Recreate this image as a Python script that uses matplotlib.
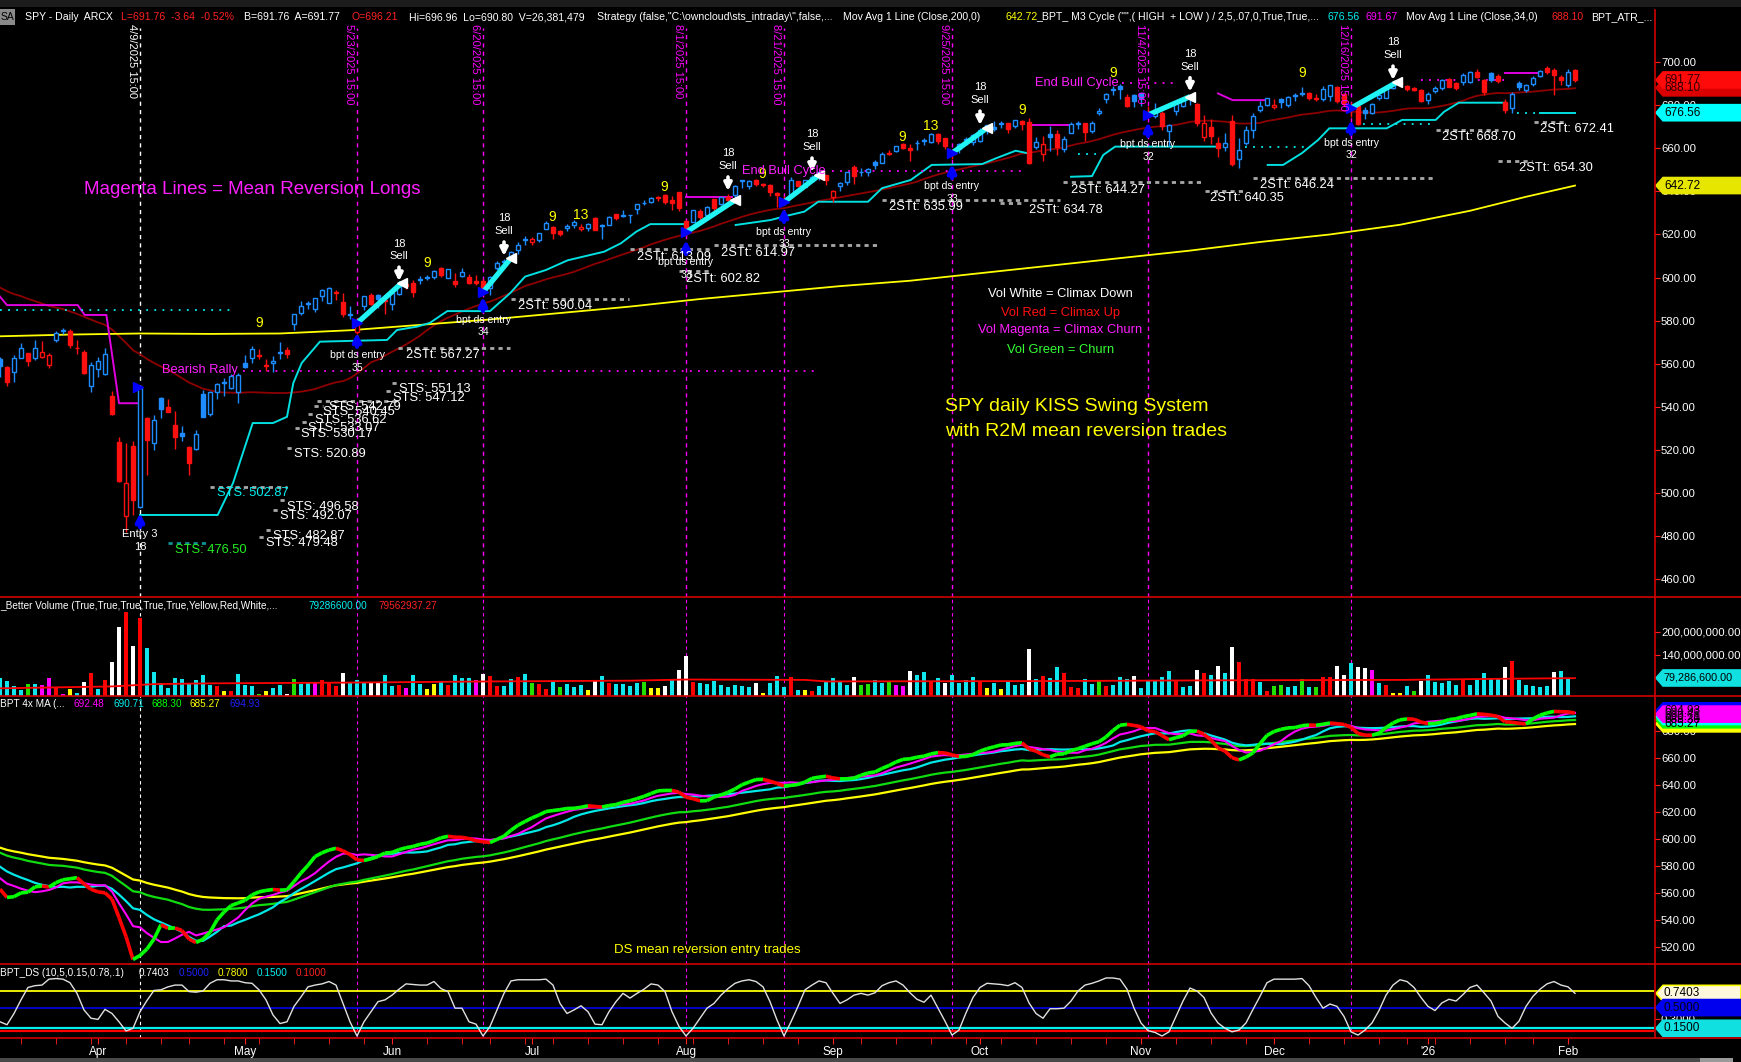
import numpy as np
import pandas as pd
import matplotlib
matplotlib.use('Agg')
import matplotlib.pyplot as plt
from matplotlib.patches import Rectangle, Polygon
from matplotlib.collections import LineCollection
from matplotlib.transforms import IdentityTransform
from matplotlib.lines import Line2D

plt.rcParams['font.family'] = ['Liberation Sans', 'DejaVu Sans']
NARROW = ['Liberation Sans Narrow', 'Liberation Sans', 'DejaVu Sans']

# ---------------- data ----------------
holidays = ['2025-04-18', '2025-05-26', '2025-06-19', '2025-07-04', '2025-09-01',
            '2025-11-27', '2025-12-25', '2026-01-01', '2026-01-19']
dates = pd.bdate_range('2025-03-12', '2026-02-03')
dates = dates[~dates.isin(pd.to_datetime(holidays))]

# closes before the first visible bar, only used to seed the averages
pre_closes = [603.05, 606.44, 609.75, 607.97, 599.37, 604.52, 601.81, 605.04, 601.82,
              597.77, 601.78, 604.22, 606.32, 600.77, 604.85, 605.31, 603.36, 609.73,
              609.70, 611.49, 612.93, 610.38, 599.94, 597.21, 594.24, 594.54, 585.05,
              594.18, 583.77, 576.86, 583.06, 572.71, 575.92, 560.58, 555.92]

opens = [
    562.2, 558.5, 556.1, 562.8, 564.8, 562.8, 563.3, 559.3, 570.8, 575.3, 575.2, 567.2, 565.5, 549.8,
    557.5, 555.1, 545.1, 523.7, 489.2, 521.6, 493.4, 534.9, 523.2, 544.0, 539.7, 531.7, 527.6, 521.1, 520.4, 546.0, 536.8, 546.7, 551.4, 548.9, 546.9,
    560.4, 562.8, 564.0, 559.2, 560.4, 565.3, 566.2, 578.6, 583.3, 587.8, 585.6, 591.3, 588.1, 593.1, 588.4, 582.7, 574.7, 586.6, 591.9, 592.1, 588.9,
    587.8, 592.3, 597.0, 597.6, 598.7, 599.7, 600.2, 604.2, 600.0, 598.5, 600.9, 600.2, 598.2, 598.4, 595.0, 604.3, 607.9, 608.9, 612.9, 617.4,
    616.4, 617.2, 622.5, 623.4, 621.4, 622.8, 624.2, 622.7, 623.2, 627.5, 623.7, 624.4, 629.3, 628.8, 629.0, 631.6, 634.6, 635.1, 637.5, 638.4, 635.9, 639.5,
    626.3, 625.7, 631.1, 629.1, 636.3, 634.0, 637.4, 638.3, 644.8, 642.7, 645.1, 642.9, 643.1, 639.4, 636.3, 637.8, 644.6, 642.2, 644.6, 647.2, 647.5,
    637.5, 642.7, 644.4, 651.5, 649.2, 648.9, 653.6, 653.4, 657.6, 658.8, 662.0, 660.0, 662.4, 663.5, 662.9, 666.8, 664.8, 657.9, 659.5, 664.4, 662.9,
    663.2, 670.8, 669.9, 671.1, 672.0, 670.3, 672.9, 672.2, 660.6, 657.2, 666.8, 666.8, 659.5, 667.3, 671.4, 672.0, 668.1, 676.5, 682.9, 687.1, 688.8, 683.9, 685.0,
    685.7, 676.1, 674.9, 676.5, 667.9, 677.4, 679.9, 684.8, 680.5, 665.4, 669.8, 662.3, 660.6, 672.9, 655.1, 662.7, 668.6, 677.6, 680.0,
    679.2, 683.0, 680.0, 685.0, 685.3, 685.9, 683.1, 682.9, 684.5, 688.5, 685.1, 679.2, 679.5, 677.8, 676.3, 683.2, 683.6, 688.0, 690.6, 688.9, 687.9, 687.1,
    682.6, 686.6, 687.9, 692.2, 690.2, 690.9, 690.9, 695.6, 691.7, 694.8, 693.7, 681.7, 678.6, 690.2, 687.1, 689.7, 693.7, 697.5, 696.4, 693.3,
    689.4, 696.21]
highs = [
    563.1, 559.1, 563.8, 569.7, 565.0, 570.9, 570.6, 564.9, 575.2, 576.4, 576.3, 570.9, 566.3, 560.7,
    562.9, 567.4, 547.2, 525.9, 523.2, 524.0, 548.6, 535.2, 536.3, 544.3, 543.7, 537.9, 531.2, 521.7, 529.2, 547.6, 547.4, 551.0, 553.1, 555.2, 555.5,
    564.0, 568.3, 566.9, 562.0, 563.6, 570.0, 567.8, 583.1, 589.1, 588.9, 590.5, 594.5, 595.5, 594.1, 592.6, 586.6, 581.0, 591.3, 592.6, 592.3, 591.1,
    592.8, 597.1, 597.3, 599.0, 600.8, 601.2, 603.5, 605.1, 603.8, 601.9, 604.4, 601.8, 601.2, 599.5, 600.5, 607.9, 608.6, 612.3, 616.4, 619.2,
    618.8, 620.5, 626.3, 624.0, 622.1, 624.7, 626.9, 624.9, 625.2, 627.9, 625.0, 628.4, 629.4, 631.5, 629.2, 634.2, 636.0, 637.6, 638.0, 638.7, 637.7, 639.8,
    626.8, 631.4, 631.6, 633.3, 636.5, 637.6, 638.9, 642.9, 645.2, 645.3, 645.7, 644.0, 643.6, 639.7, 637.9, 646.5, 645.0, 645.3, 647.4, 649.5, 647.8,
    640.5, 644.2, 649.2, 652.2, 650.9, 650.9, 654.6, 658.3, 659.1, 661.0, 662.3, 662.1, 664.0, 664.7, 667.3, 667.3, 664.9, 659.7, 662.4, 665.3, 666.7,
    669.4, 670.9, 672.7, 672.5, 672.0, 673.2, 673.1, 673.9, 665.1, 665.8, 670.2, 668.7, 665.8, 672.2, 672.9, 672.0, 672.7, 678.8, 685.5, 688.9, 689.7, 685.1, 685.1,
    685.8, 679.9, 680.9, 677.4, 671.1, 682.0, 683.6, 684.9, 680.9, 675.7, 673.7, 665.1, 667.3, 675.6, 664.6, 670.4, 676.2, 681.9, 683.4,
    682.9, 683.6, 684.5, 685.6, 688.4, 686.3, 685.4, 688.9, 689.5, 689.0, 685.6, 681.5, 680.1, 679.0, 681.1, 685.4, 688.0, 690.5, 691.2, 689.3, 688.4, 687.4,
    686.3, 689.0, 692.3, 692.9, 691.0, 694.8, 696.0, 696.8, 692.3, 695.6, 694.6, 682.8, 686.3, 691.3, 690.1, 693.4, 696.3, 698.1, 697.1, 694.2,
    696.9, 696.96]
lows = [
    553.7, 549.7, 551.5, 562.4, 559.1, 561.6, 562.7, 558.0, 570.1, 573.7, 567.2, 564.7, 555.1, 546.9,
    553.7, 554.8, 536.0, 505.1, 481.8, 489.7, 493.0, 508.3, 520.0, 534.6, 537.4, 520.3, 523.9, 508.5, 519.9, 535.2, 535.8, 543.7, 545.1, 548.1, 541.7,
    557.9, 560.3, 562.3, 556.4, 555.9, 562.3, 562.4, 575.5, 582.7, 585.5, 583.9, 589.3, 588.0, 589.7, 581.8, 580.6, 573.9, 585.1, 587.2, 585.8, 583.2,
    585.1, 591.9, 594.6, 591.1, 596.9, 598.8, 599.5, 600.1, 599.6, 595.5, 600.2, 596.8, 596.5, 593.6, 591.9, 603.4, 605.5, 608.5, 610.8, 615.0,
    615.0, 616.6, 622.4, 617.9, 619.5, 621.5, 623.0, 621.5, 621.8, 622.0, 618.1, 624.2, 626.5, 628.3, 625.3, 629.4, 633.7, 634.5, 635.5, 634.3, 631.5, 630.8,
    619.3, 625.6, 626.2, 628.6, 629.3, 633.7, 634.8, 636.0, 641.8, 641.0, 642.3, 642.2, 637.9, 632.9, 633.6, 637.3, 642.3, 641.9, 644.4, 645.3, 643.1,
    634.9, 640.4, 642.8, 643.3, 647.0, 647.2, 650.6, 653.0, 656.9, 658.4, 659.6, 654.2, 659.1, 661.4, 662.7, 661.8, 659.8, 654.9, 657.9, 661.6, 661.6,
    663.1, 666.6, 668.2, 669.4, 667.3, 669.4, 668.3, 652.8, 659.8, 653.9, 658.9, 657.1, 658.1, 667.3, 669.0, 663.3, 667.0, 675.6, 680.9, 684.8, 682.9, 679.2, 679.2,
    679.9, 674.6, 674.0, 668.7, 661.2, 675.4, 679.1, 680.1, 670.5, 663.3, 662.2, 655.9, 658.8, 651.9, 650.9, 661.6, 665.0, 676.8, 679.6,
    678.5, 678.6, 679.0, 681.9, 684.5, 682.5, 682.1, 681.9, 681.9, 680.9, 679.5, 674.5, 670.8, 673.5, 675.8, 682.6, 683.2, 687.6, 689.4, 686.6, 686.8, 681.5,
    680.8, 685.9, 687.2, 688.3, 687.0, 689.5, 690.4, 692.5, 685.0, 690.9, 690.2, 676.2, 676.5, 687.2, 686.2, 689.1, 693.0, 694.6, 684.8, 689.6,
    688.6, 690.80]
closes = [
    558.9, 551.4, 562.8, 567.2, 561.0, 567.1, 565.5, 564.0, 574.1, 575.5, 568.6, 567.1, 555.7, 559.4,
    561.0, 564.5, 536.7, 505.3, 504.4, 496.5, 548.6, 524.6, 533.9, 539.1, 537.6, 525.7, 526.4, 513.9, 527.3, 535.4, 546.7, 550.6, 550.9, 554.3, 554.5,
    558.5, 566.8, 563.5, 558.8, 561.2, 565.1, 564.3, 583.0, 586.8, 587.6, 590.5, 594.2, 594.9, 592.9, 582.9, 583.1, 579.1, 591.2, 587.7, 590.1, 589.4,
    592.7, 596.1, 595.9, 593.1, 599.1, 599.7, 603.1, 601.4, 603.8, 597.0, 602.7, 597.5, 597.4, 594.3, 600.2, 606.8, 607.1, 611.9, 614.9, 617.9,
    617.7, 620.5, 625.3, 620.7, 620.3, 624.1, 625.8, 623.6, 624.8, 622.1, 624.2, 628.0, 627.6, 628.8, 628.9, 634.2, 634.4, 637.1, 636.9, 635.3, 634.5, 632.1,
    621.7, 631.2, 628.0, 632.8, 632.3, 637.2, 635.9, 642.7, 644.9, 645.0, 643.4, 643.3, 639.8, 638.1, 635.6, 645.3, 642.5, 645.2, 646.6, 648.9, 645.1,
    640.3, 643.7, 649.1, 647.2, 648.8, 650.3, 652.2, 657.6, 657.4, 660.9, 660.0, 659.2, 662.3, 663.7, 666.8, 663.2, 661.1, 658.1, 661.8, 663.7, 666.2,
    668.5, 669.2, 669.2, 671.6, 669.1, 673.1, 671.2, 653.0, 663.0, 662.2, 665.2, 660.6, 664.4, 671.3, 671.3, 667.8, 671.8, 677.3, 685.2, 687.1, 687.4, 679.8, 682.1,
    683.3, 675.2, 677.6, 670.3, 671.0, 681.4, 683.0, 683.4, 672.0, 671.9, 665.7, 660.1, 662.6, 652.5, 659.0, 668.7, 675.0, 679.7, 683.4,
    680.3, 681.5, 683.9, 684.4, 685.7, 683.6, 683.0, 687.6, 689.2, 681.8, 680.7, 678.9, 671.4, 676.5, 680.6, 684.8, 687.9, 690.2, 690.0, 687.6, 687.1, 681.8,
    685.3, 688.0, 691.7, 688.6, 687.9, 694.0, 695.6, 693.3, 686.3, 691.7, 691.3, 677.8, 685.1, 688.6, 689.4, 692.8, 695.9, 695.3, 694.0, 691.9,
    695.4, 691.76]

# volume in millions, colour code per bar (c cyan, w white, r red, m magenta, g green, y yellow)
volume_m = [
    80, 73, 59, 48.6, 64, 64, 62, 79, 56, 38,
    51, 40, 69.5, 93, 51, 74.7, 122.5, 214, 253, 163,
    236, 159, 96.5, 66, 54.7, 79, 77.3, 67.7, 74.7, 87.7,
    62, 59, 47, 46, 90, 62, 59, 38, 46, 53,
    62, 37, 76.4, 64, 66, 70.3, 74.7, 66, 59, 93.8,
    67.7, 74.7, 70.3, 67.7, 67.7, 87.7, 59, 62, 54.7, 87.7,
    64, 50.3, 63.4, 72, 62, 87.7, 79, 80.8, 74.7, 89.5,
    85, 59, 59, 76.4, 81.7, 90, 67.7, 64, 50.3, 72,
    56, 64, 57.3, 62, 48.6, 72, 85, 67.7, 64, 63.4,
    59, 66, 69.5, 55, 54, 59, 77.3, 100.8, 137, 69.5,
    66, 64, 72, 62, 57, 61, 59, 57, 67, 40,
    67, 85, 56, 81.6, 48.6, 48.6, 47, 59, 72, 79,
    69.5, 62, 81.6, 62, 64, 75, 66, 69, 61, 60,
    98, 88, 96, 69.5, 80, 68, 88, 68, 75, 81.6,
    70.4, 54, 66, 52, 69.5, 62, 64, 155, 76.4, 85,
    79, 108, 92, 57, 53, 76.4, 64, 71, 60, 62,
    81.6, 76.4, 85, 53, 75, 73, 81.6, 98, 73, 57,
    59, 101, 93, 88, 111, 93, 160, 121, 77.3, 76.4,
    69.5, 47, 59, 62, 56, 59, 77.3, 56, 57, 81.6,
    81.6, 111, 88, 118, 108, 107, 101, 66, 62, 40,
    41, 59, 47, 72, 87, 69.5, 68, 73, 61, 76.4,
    62, 75, 92, 76.4, 76.4, 108, 124.3, 75, 62, 59,
    56, 59, 96, 98, 78, 26.4]
volume_codes = ("ccccgcmmrm" "ycwrcrwwrw" "rccccccccc" "cryrcccgyc" "cwgccmrrrw"
                "cccwwccrmc" "cyycrcccmw" "rrccrcgrrc" "gcccywcrcc" "ccgyywcwwr"
                "ccccccccwy" "cccrcyrccc" "ccwggccgmm" "wccrcwcccc" "rycycccwcr"
                "ccrrrccgrc" "ccwcccccrc" "cwrcwcwrrr" "crggccgcgr" "rwwcwwmcry"
                "ycgwcccccr" "cccccwrccc" "ccwccc")
vol_avg_idx = [0, 16, 22, 30, 50, 70, 90, 98, 115, 118, 150, 175, 200, 215, 225]
vol_avg_m = [53, 58, 64, 66, 68, 71, 73, 76, 75, 71, 72, 74, 75, 78, 79.6]

# BPT_DS oscillator
ds_osc = [
    .26, .21, .40, .63, .84, .87, .88, .98, .99, .98,
    .92, .74, .46, .32, .30, .47, .40, .26, .105, .15,
    .43, .62, .79, .80, .85, .88, .88, .77, .76, .78,
    .91, .97, .97, .95, .95, .92, .91, .80, .63, .375,
    .23, .26, .52, .68, .85, .88, .90, .94, .88, .57,
    .26, .02, .26, .43, .60, .63, .71, .81, .90, .89,
    .88, .88, .94, .82, .77, .49, .49, .26, .22, .02,
    .18, .46, .74, .95, .97, .97, .97, .97, .98, .88,
    .57, .40, .46, .53, .43, .22, .21, .43, .60, .74,
    .66, .74, .81, .90, .88, .77, .43, .18, .02, .15,
    .32, .49, .57, .71, .82, .91, .95, .97, .94, .85,
    .60, .29, .02, .26, .52, .80, .88, .95, .92, .74,
    .57, .63, .71, .74, .71, .75, .87, .92, .95, .88,
    .75, .64, .59, .71, .49, .27, .035, .12, .41, .67,
    .84, .91, .90, .89, .87, .92, .84, .58, .40, .32,
    .48, .48, .49, .61, .78, .88, .91, .95, 1.0, 1.0,
    .98, .81, .49, .24, .11, .08, .02, .09, .35, .61,
    .83, .78, .67, .41, .24, .15, .09, .12, .24, .47,
    .69, .92, .98, .98, .98, .98, .99, .87, .67, .49,
    .56, .52, .35, .09, .035, .12, .24, .45, .71, .88,
    .97, .94, .84, .67, .52, .45, .58, .64, .61, .72,
    .84, .88, .75, .61, .35, .24, .15, .27, .52, .69,
    .81, .90, .94, .88, .85, .7403]

# 200 day average
sma200_idx = [0, 10, 20, 30, 40, 50, 60, 70, 80, 90, 100, 110, 120, 130, 140, 150, 160,
              170, 180, 190, 200, 210, 218, 225]
sma200_val = [572.7, 573.5, 574.0, 573.8, 574.0, 575.5, 578.0, 580.5, 583.5, 586.5, 590.0,
              593.0, 596.0, 598.5, 602.0, 605.5, 609.0, 612.5, 616.5, 620.0, 624.5, 631.0,
              637.5, 642.7]

# trailing stop (cyan) pieces and M3 cycle (magenta) pieces: (bar, price)
stop_pieces = [
    [(20, 489.7), (31.1, 489.7), (33.3, 504.6), (36.1, 532.4), (39, 532.4), (41, 535.3),
     (41.9, 551), (43.1, 560.3), (45.7, 570.2), (55.3, 571), (56.7, 575.6), (59.6, 577.2),
     (61.4, 578.9), (63.9, 584.4), (70, 584.4), (72.9, 592.8), (75, 600.4), (78, 603.5),
     (81.1, 608), (86.3, 612), (88.7, 615.9), (90.9, 621.3), (92.9, 624.8), (98, 624.8)],
    [(105.1, 624.4), (110.1, 626.7), (112.3, 628.6), (114.9, 630.6), (116.9, 635.2),
     (124, 635.2), (126, 641.5), (130.1, 645.3), (133.1, 652.3), (140.3, 652.7),
     (142.3, 655.4), (145.1, 658.9), (146.7, 657.8)],
    [(153, 646.8), (156, 647.1), (157.6, 656.9), (159.3, 660.8), (174, 660.8)],
    [(181.1, 652.3), (183.3, 652.3), (186, 657.8), (188.3, 663.9), (189.9, 669.3),
     (198.1, 669.3), (200.3, 673.2), (205.1, 673.2), (206.3, 677), (208.4, 681.2), (215, 681.2)],
    [(220, 676.6), (225, 676.6)]]
cycle_pieces = [
    [(0, 591.1), (1, 587.2), (11.1, 587.2), (12.1, 582.6), (15.2, 582.6), (17.0, 541.6), (19.8, 541.6)],
    [(98, 637.5), (104.6, 637.5)],
    [(147, 670.8), (153.3, 670.8)],
    [(174, 685.5), (176.1, 682.4), (181.1, 682.4)],
    [(215, 694.8), (220, 694.8)]]
# dotted projections: (price, from bar, to bar, colour)
dotted = [(584.8, 0, 33.3, 'c'), (556.6, 34.7, 116.3, 'm'), (649.3, 118.9, 146.7, 'm'),
          (690.5, 160.3, 168.3, 'm'), (657.4, 154.0, 157.1, 'c'), (660.8, 177.9, 186.6, 'c'),
          (671.2, 194.7, 204.6, 'c'), (691.7, 203.0, 215.0, 'm'), (676.4, 216.7, 220.0, 'c')]

# mean reversion trades
event_dates = ['2025-04-09', '2025-05-23', '2025-06-20', '2025-08-01', '2025-08-21',
               '2025-09-25', '2025-11-04', '2025-12-16']
entry_px = [578.8, 593.2, 621.0, 635.0, 657.8, 675.5, 678.7]
exit_idx = [57.4, 73.0, 105.0, 117.0, 141.0, 170.0, 199.5]
exit_px = [597.5, 609.0, 635.9, 647.5, 669.4, 684.0, 690.6]
entry_arrow_px = [574.3, 591.0, 617.4, 632.3, 652.7, 672.2, 673.2]
entry_label_px = [564.0, 580.4, 607.1, 621.3, 642.5, 662.0, 662.6]
entry_count = ['35', '34', '33', '33', '33', '32', '32']
sell_idx = [57, 72, 104, 116, 140, 170, 199]
sell_tip_px = [598.3, 610.0, 640.2, 649.0, 670.8, 686.3, 691.7]

# stop / target labels: (value, line from, line to, text bar, colour)
sts_labels = [(551.13, 56.0, 57.0, 57.0, 'w'), (547.12, 55.1, 56.1, 56.1, 'w'),
              (542.79, 45.3, 57.1, 47.0, 'w'), (540.45, 44.8, 46.1, 46.1, 'w'),
              (536.62, 44.0, 45.0, 45.0, 'w'), (533.07, 43.1, 44.0, 44.0, 'w'),
              (530.17, 42.1, 43.0, 43.0, 'w'), (520.89, 41.0, 42.0, 42.0, 'w'),
              (502.87, 30.0, 41.0, 31.0, 'c'), (496.58, 40.0, 41.0, 41.0, 'w'),
              (492.07, 39.0, 40.0, 40.0, 'w'), (482.87, 38.0, 39.0, 39.0, 'w'),
              (479.48, 37.0, 38.0, 38.0, 'w'), (476.50, 24.0, 29.6, 25.0, 'g')]
target_labels = [(567.27, 56.9, 72.9, 58.0), (590.04, 73.0, 89.9, 74.0),
                 (613.09, 90.0, 101.6, 91.0), (602.82, 97.0, 101.6, 98.0),
                 (614.97, 102.0, 125.6, 103.0), (635.99, 126.0, 151.4, 127.0),
                 (634.78, 142.9, 146.0, 147.0), (644.27, 151.9, 171.9, 153.0),
                 (640.35, 172.1, 177.9, 172.9), (646.24, 179.0, 204.9, 180.0),
                 (668.70, 205.1, 214.0, 206.0), (654.30, 214.0, 218.9, 217.0),
                 (672.41, 219.1, 223.7, 220.0)]
count_labels = [(37.0, 578.9, '9'), (61.0, 606.7, '9'), (78.9, 628.1, '9'), (83.0, 629.0, '13'),
                (94.9, 642.0, '9'), (108.9, 648.1, '9'), (128.9, 665.3, '9'), (133.0, 670.4, '13'),
                (146.0, 677.8, '9'), (159.0, 695.0, '9'), (186.0, 695.0, '9')]

# ---------------- derived ----------------
n = len(closes)
idx = np.arange(n)
npre = len(pre_closes)
allc = pd.Series(pre_closes + closes)
sma34 = allc.rolling(34).mean().values[npre:]
ma4 = allc.rolling(4).mean().values[npre:]
ma8 = allc.rolling(8).mean().values[npre:]
ma13 = allc.rolling(13).mean().values[npre:]
ema34 = allc.ewm(span=34, adjust=False).mean().values[npre:]
ema50 = allc.ewm(span=50, adjust=False).mean().values[npre:]
event_idx = [dates.get_loc(pd.Timestamp(d)) for d in event_dates]

BLUE = '#1E8CFF'
RED = '#FF1010'
CYAN = '#00F0F0'
MAG = '#FF00FF'
YEL = '#FFFF00'
GRN = '#00FF00'
vcol = {'c': '#10E6EE', 'w': '#FFFFFF', 'r': '#FF0000', 'm': '#FF00FF', 'g': '#22E000', 'y': '#FFFF00'}
lcol = {'c': CYAN, 'm': MAG, 'w': 'white', 'g': '#22EE22'}

W, H = 1741, 1062
fig = plt.figure(figsize=(W / 100, H / 100), dpi=100, facecolor='black')
XMAX = 1654 / 7.0


def axpos(top, bot):
    return [0, 1 - bot / H, 1654 / W, (bot - top) / H]


ax = fig.add_axes(axpos(28, 597))
axv = fig.add_axes(axpos(597, 696))
axm = fig.add_axes(axpos(696, 964))
axo = fig.add_axes(axpos(964, 1038))
for a in (ax, axv, axm, axo):
    a.set_facecolor('black')
    a.set_xlim(0, XMAX)
    for s in a.spines.values():
        s.set_visible(False)
    a.yaxis.tick_right()
    a.tick_params(axis='y', colors='#FF2020', labelcolor='white', labelsize=8.2,
                  length=4, pad=1)
    a.tick_params(axis='x', bottom=False, labelbottom=False)

ax.set_ylim(451.6, 715.9)
axv.set_ylim(33.0e6, 291.3e6)
axm.set_ylim(507.4, 705.9)
axo.set_ylim(-0.014, 1.236)

# ---------------- price panel ----------------
ax.set_yticks(np.arange(460, 701, 20))
ax.set_yticklabels(['%.2f' % v for v in np.arange(460, 701, 20)])

prev = [pre_closes[-1]] + closes[:-1]
cols = [BLUE if c >= p else RED for c, p in zip(closes, prev)]
ax.vlines(idx, lows, highs, colors=cols, lw=1.0, zorder=3)
for i in range(n):
    o, c = opens[i], closes[i]
    lo = min(o, c)
    hgt = max(abs(c - o), 0.35)
    fc = 'black' if c > o else cols[i]
    ax.add_patch(Rectangle((i - 0.33, lo), 0.66, hgt, fc=fc, ec=cols[i], lw=1.0, zorder=4))

ax.plot(idx, sma34, color='#8E0000', lw=1.3, zorder=2)
ax.plot(sma200_idx, sma200_val, color=YEL, lw=1.3, zorder=2)
for piece in stop_pieces:
    xs, ys = zip(*piece)
    ax.plot(xs, ys, color='#00E0E0', lw=1.4, zorder=2)
for piece in cycle_pieces:
    xs, ys = zip(*piece)
    ax.plot(xs, ys, color='#E000E0', lw=1.4, zorder=2)
for y, x0, x1, c in dotted:
    ax.plot([x0, x1], [y, y], color=lcol[c], lw=1.3, ls=(0, (1, 3.5)), zorder=2)

# event lines and date labels
for k, (ei, d) in enumerate(zip(event_idx, event_dates)):
    col = 'white' if k == 0 else MAG
    for a in (ax, axv, axm, axo):
        a.axvline(ei, color=col, lw=1.0 if a is ax else 0.8, ls=(0, (3, 3)), zorder=1)
    ts = pd.Timestamp(d)
    lab = '%d/%d/%d 15:00' % (ts.month, ts.day, ts.year)
    ax.text(ei - 1.15, 717.8, lab, rotation=270, color=col, fontsize=8, ha='center',
            va='top', clip_on=False, zorder=8)

# trades
ax.annotate('', xy=(event_idx[0], 490.6), xytext=(event_idx[0], 484.0),
            arrowprops=dict(arrowstyle='-|>', color='#0000FF', lw=3, mutation_scale=12,
                            shrinkA=0, shrinkB=0), zorder=7)
ax.plot(event_idx[0] - 0.3, 549.2, marker='>', color='#0000FF', ms=7, zorder=7)
ax.text(event_idx[0], 480.9, 'Entry 3', color='white', fontsize=8, ha='center',
        va='center', family=NARROW, zorder=8)
ax.text(event_idx[0], 475.0, '18', color='white', fontsize=8, ha='center', va='center',
        family=NARROW, zorder=8)
for k in range(len(entry_px)):
    ei = event_idx[k + 1]
    ax.plot([ei, exit_idx[k]], [entry_px[k], exit_px[k]], color='#20F4F4', lw=3.8,
            solid_capstyle='butt', zorder=6)
    ax.plot(ei, entry_px[k], marker='>', color='#0000FF', ms=7, zorder=7)
    ax.plot(exit_idx[k], exit_px[k], marker='<', color='white', ms=7, zorder=7)
    ax.annotate('', xy=(ei, entry_arrow_px[k]), xytext=(ei, entry_arrow_px[k] - 6.5),
                arrowprops=dict(arrowstyle='-|>', color='#0000FF', lw=3, mutation_scale=12,
                                shrinkA=0, shrinkB=0), zorder=7)
    ax.text(ei, entry_label_px[k], 'bpt ds entry', color='white', fontsize=7.6,
            ha='center', va='center', family=NARROW, zorder=8)
    ax.text(ei, entry_label_px[k] - 5.8, entry_count[k], color='white', fontsize=7.6,
            ha='center', va='center', family=NARROW, zorder=8)
    si, tip = sell_idx[k], sell_tip_px[k]
    ax.annotate('', xy=(si, tip), xytext=(si, tip + 6.5),
                arrowprops=dict(arrowstyle='-|>', color='white', lw=2.6, mutation_scale=11,
                                shrinkA=0, shrinkB=0), zorder=7)
    ax.text(si, tip + 11.5, 'Sell', color='white', fontsize=8, ha='center', va='center',
            family=NARROW, zorder=8)
    ax.text(si, tip + 17.5, '18', color='white', fontsize=8, ha='center', va='center',
            family=NARROW, zorder=8)

for val, x0, x1, tx, c in sts_labels:
    ax.plot([x0, x1], [val, val], color='#A8A8A8' if c != 'g' else '#109090', lw=2,
            ls=(0, (1.5, 1.5)), zorder=5)
    ax.text(tx, val - 3.0, 'STS: %.2f' % val, color=lcol[c] if c != 'w' else 'white',
            fontsize=9.3, ha='left', va='center', zorder=8)
for val, x0, x1, tx in target_labels:
    ax.plot([x0, x1], [val, val], color='#A8A8A8', lw=2, ls=(0, (1.5, 1.5)), zorder=5)
    ax.text(tx, val - 3.4, '2STt: %.2f' % val, color='white', fontsize=9.3, ha='left',
            va='center', zorder=8)
for x, y, t in count_labels:
    ax.text(x, y, t, color=YEL, fontsize=10, ha='center', va='center', zorder=8)

ax.text(12.0, 641.0, 'Magenta Lines = Mean Reversion Longs', color='#FF20FF', fontsize=13.5,
        ha='left', va='center', zorder=8)
ax.text(23.1, 556.9, 'Bearish Rally', color='#FF20FF', fontsize=9.3, ha='left', va='center',
        zorder=8)
ax.text(106.0, 649.5, 'End Bull Cycle', color='#FF20FF', fontsize=9.3, ha='left',
        va='center', zorder=8)
ax.text(147.9, 690.3, 'End Bull Cycle', color='#FF20FF', fontsize=9.3, ha='left',
        va='center', zorder=8)
ax.text(135.0, 540.3, 'SPY daily KISS Swing System', color=YEL, fontsize=14, ha='left',
        va='center', zorder=8)
ax.text(135.0, 528.6, 'with R2M mean reversion trades', color=YEL, fontsize=14, ha='left',
        va='center', zorder=8)
for y, t, c in [(592.3, 'Vol White = Climax Down', 'white'), (583.5, 'Vol Red = Climax Up', '#FF1010'),
                (575.6, 'Vol Magenta = Climax Churn', '#FF20FF'), (566.3, 'Vol Green = Churn', '#33FF33')]:
    ax.text(151.5, y, t, color=c, fontsize=9.3, ha='center', va='center', zorder=8)

# ---------------- volume panel ----------------
axv.bar(idx, np.array(volume_m) * 1e6, width=0.6, color=[vcol[c] for c in volume_codes],
        zorder=2)
axv.plot(vol_avg_idx, np.array(vol_avg_m) * 1e6, color='#FF0000', lw=1.3, zorder=3)
axv.set_yticks([140e6, 200e6])
axv.set_yticklabels(['140,000,000.00', '200,000,000.00'])

# ---------------- MA panel ----------------
pts = np.column_stack([idx, ma4])
segs = [pts[i - 1:i + 1] for i in range(1, n)]
seg_cols = [GRN if ma4[i] >= ma4[i - 1] else '#FF0000' for i in range(1, n)]
axm.plot(idx, ema50, color=YEL, lw=1.6, zorder=2)
axm.plot(idx, ema34, color='#10DD10', lw=1.6, zorder=2)
axm.plot(idx, ma13, color='#00E8E8', lw=1.6, zorder=2)
axm.plot(idx, ma8, color='#FF00FF', lw=1.5, zorder=3)
axm.add_collection(LineCollection(segs, colors=seg_cols, lw=2.6, zorder=4))
axm.set_yticks(np.arange(520, 681, 20))
axm.set_yticklabels(['%.2f' % v for v in np.arange(520, 681, 20)])
axm.text(101.1, 517.8, 'DS mean reversion entry trades', color=YEL, fontsize=9.5,
         ha='center', va='center', family=NARROW)

# ---------------- oscillator ----------------
axo.axhline(0.78, color=YEL, lw=1.3)
axo.axhline(0.50, color='#0000FF', lw=1.1)
axo.axhline(0.15, color='#00F0F0', lw=1.6)
axo.axhline(0.10, color='#FF0000', lw=1.6)
axo.plot(idx, ds_osc, color='#E0E0E0', lw=1.0, zorder=3)
axo.set_yticks([0.3])
axo.set_yticklabels(['0.3000'])

month_idx = [i for i in range(1, n) if dates[i].month != dates[i - 1].month]
month_lab = ["'26" if dates[i].month == 1 else dates[i].strftime('%b') for i in month_idx]
week_idx = [i for i in range(1, n) if dates[i].weekday() < dates[i - 1].weekday()]
axo.set_xticks(month_idx)
axo.set_xticklabels(month_lab)
axo.set_xticks(week_idx, minor=True)
axo.tick_params(axis='x', which='both', bottom=True, labelbottom=True, colors='#FF2020',
                labelcolor='white', labelsize=8.5, length=4, pad=2)

# ---------------- frame, headers, tags ----------------
ID = IdentityTransform()


def hline(y, x0=0, x1=W, c='#D00000', lw=1.2):
    fig.add_artist(Line2D([x0, x1], [H - y, H - y], color=c, lw=lw, transform=ID))


for y in (597, 696, 964, 1038):
    hline(y)
fig.add_artist(Line2D([1654.5, 1654.5], [H - 1038, H - 10], color='#D00000', lw=1.2,
                      transform=ID))
fig.add_artist(Rectangle((0, H - 7), W, 7, fc='#1c1c1c', ec='none', transform=ID))
fig.add_artist(Rectangle((0, 0), 1700, 4, fc='#4a4a4a', ec='none', transform=ID))
fig.add_artist(Rectangle((1700, 0), 33, 4, fc='#9a9a9a', ec='none', transform=ID))
fig.add_artist(Rectangle((0, H - 25), 15, 16, fc='#8a8a8a', ec='none', transform=ID))
fig.text(1, H - 17, 'SA', color='black', fontsize=7.5, va='center', transform=ID)

header = [(25, 'SPY - Daily  ARCX', 'white'), (121, 'L=691.76  -3.64  -0.52%', '#FF2020'),
          (244, 'B=691.76  A=691.77', 'white'), (351, 'O=696.21', '#FF2020'),
          (409, 'Hi=696.96  Lo=690.80  V=26,381,479', 'white'),
          (597, 'Strategy (false,"C:\\owncloud\\sts_intraday\\",false,...', 'white'),
          (843, 'Mov Avg 1 Line (Close,200,0)', 'white'), (1005, '642.72', YEL),
          (1036, '_BPT_ M3 Cycle ("",( HIGH  + LOW ) / 2,5,.07,0,True,True,...', 'white'),
          (1328, '676.56', CYAN), (1366, '691.67', MAG),
          (1406, 'Mov Avg 1 Line (Close,34,0)', 'white'), (1552, '688.10', '#FF2020'),
          (1591, 'BPT_ATR_...', 'white')]
for x, t, c in header:
    fig.text(x, H - 17, t, color=c, fontsize=7.6, va='center', ha='left', transform=ID)

sub_headers = [(606, [(0, '_Better Volume (True,True,True,True,True,Yellow,Red,White,...', 'white'),
                      (309, '79286600.00', CYAN), (379, '79562937.27', '#FF2020')]),
               (704, [(0, 'BPT 4x MA (...', 'white'), (74, '692.48', MAG), (113, '690.71', CYAN),
                      (152, '688.30', GRN), (190, '685.27', YEL), (229, '694.93', '#2020FF')]),
               (973, [(0, 'BPT_DS (10,5,0.15,0.78,.1)', 'white'), (139, '0.7403', 'white'),
                      (179, '0.5000', '#2020FF'), (218, '0.7800', YEL), (257, '0.1500', CYAN),
                      (296, '0.1000', '#FF2020')])]
for y, parts in sub_headers:
    for x, t, c in parts:
        fig.text(x, H - y, t, color=c, fontsize=7.2, va='center', ha='left', transform=ID)


def tag(a, val, fc, txt, tc='black', ec=None, fs=8.5):
    y = a.transData.transform((0, val))[1]
    poly = Polygon([(1656, y), (1663, y + 8), (1741, y + 8), (1741, y - 8), (1663, y - 8)],
                   closed=True, fc=fc, ec=ec or fc, lw=1.2, transform=ID)
    fig.add_artist(poly)
    fig.text(1664, y, txt, color=tc, fontsize=fs, va='center', ha='left', transform=ID)


tag(ax, 688.10, '#D80000', '688.10', '#300000')
tag(ax, 691.77, '#FF0A0A', '691.77', '#300000')
tag(ax, 676.56, '#00FFFF', '676.56')
tag(ax, 642.72, '#E6E600', '642.72')
tag(axv, 80.0e6, '#10E0E0', '79,286,600.00', fs=7.8)
tag(axm, 694.93, '#0000FF', '694.93')
tag(axm, 685.27, '#FFFF00', '685.27')
tag(axm, 688.30, '#00FF00', '688.30')
tag(axm, 690.71, '#00FFFF', '690.71')
tag(axm, 692.48, '#FF00FF', '692.48', '#300030')
tag(axo, 0.7403, '#FFF8DC', '0.7403', 'black', '#FFFF00')
tag(axo, 0.5000, '#0000EE', '0.5000', '#000010')
tag(axo, 0.1500, '#10E0E0', '0.1500')

fig.savefig('out.png', dpi=100, facecolor='black')
